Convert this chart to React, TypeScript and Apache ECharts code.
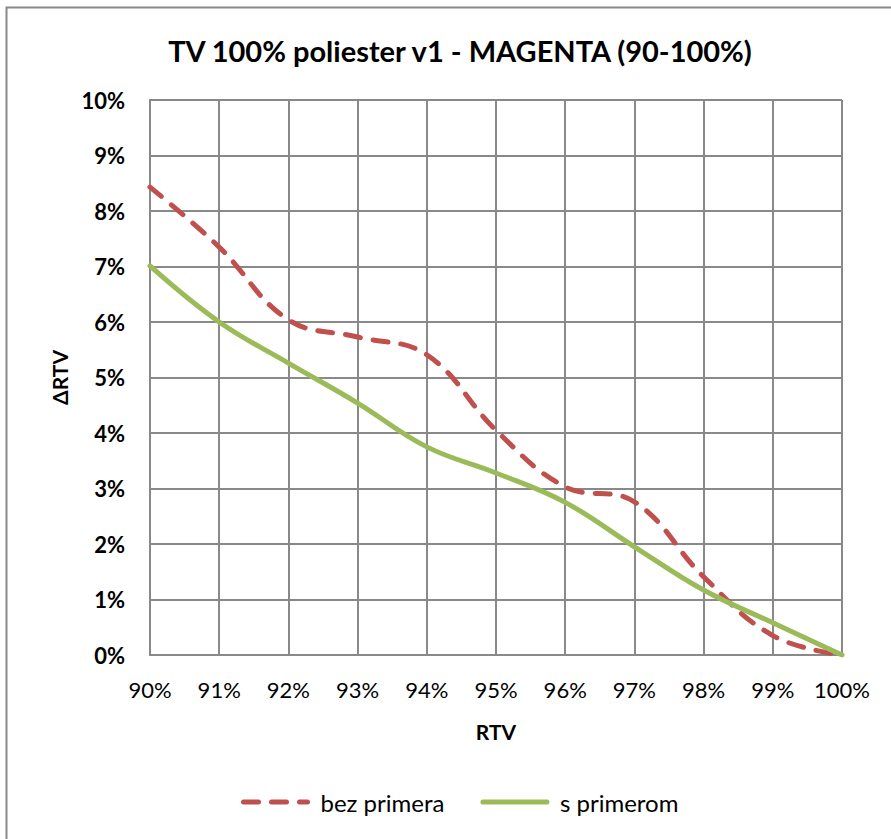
import React, { useEffect, useRef } from "react";
import * as echarts from "echarts";

const xValues = [90, 91, 92, 93, 94, 95, 96, 97, 98, 99, 100];
const bezPrimera = [8.43, 7.35, 6.04, 5.73, 5.41, 4.05, 3.03, 2.76, 1.41, 0.35, 0];
const sPrimerom = [7.01, 6.0, 5.26, 4.54, 3.75, 3.28, 2.75, 1.95, 1.17, 0.58, 0];

const FONT = "Lato, 'Open Sans', sans-serif";

export default function App() {
  const ref = useRef<HTMLDivElement>(null);
  useEffect(() => {
    document.body.style.margin = "0";
    if (!ref.current) return;
    const chart = echarts.init(ref.current, undefined, { renderer: "svg" });
    chart.setOption({
      animation: false,
      backgroundColor: "#ffffff",
      title: {
        text: "TV 100% poliester v1 - MAGENTA (90-100%)",
        left: 455,
        top: 31,
        textAlign: "center",
        textStyle: { fontFamily: FONT, fontSize: 29, fontWeight: "bold", color: "#000" },
      },
      grid: { left: 150, right: 49, top: 100, bottom: 184, containLabel: false },
      xAxis: {
        type: "value",
        min: 90,
        max: 100,
        interval: 1,
        name: "RTV",
        nameLocation: "middle",
        nameGap: 66,
        nameTextStyle: { fontFamily: FONT, fontSize: 21, fontWeight: "bold", color: "#000" },
        axisLine: { show: true, lineStyle: { color: "#898989", width: 2 } },
        axisTick: { show: false },
        axisLabel: {
          formatter: (v: number) => `${v}%`,
          fontFamily: FONT,
          fontSize: 22,
          color: "#000",
          margin: 23,
        },
        splitLine: { show: true, lineStyle: { color: "#898989", width: 2 } },
      },
      yAxis: {
        type: "value",
        min: 0,
        max: 10,
        interval: 1,
        name: "ΔRTV",
        nameLocation: "middle",
        nameGap: 80,
        nameRotate: 90,
        nameTextStyle: { fontFamily: FONT, fontSize: 21, fontWeight: "bold", color: "#000" },
        axisLine: { show: true, lineStyle: { color: "#898989", width: 2 } },
        axisTick: { show: false },
        axisLabel: {
          formatter: (v: number) => `${v}%`,
          fontFamily: FONT,
          fontSize: 22,
          fontWeight: "bold",
          color: "#000",
          margin: 25,
        },
        splitLine: { show: true, lineStyle: { color: "#898989", width: 2 } },
      },
      legend: {
        bottom: 20,
        left: 236,
        itemWidth: 64,
        itemHeight: 10,
        itemGap: 36,
        itemStyle: { opacity: 0 },
        lineStyle: { width: 5 },
        textStyle: { fontFamily: FONT, fontSize: 24, color: "#000", padding: [0, 0, 0, 8] },
        data: ["bez primera", "s primerom"],
      },
      graphic: [
        {
          type: "rect",
          shape: { x: 6.5, y: 7.5, width: 1000, height: 1000 },
          style: { fill: "none", stroke: "#898989", lineWidth: 2 },
          silent: true,
        },
      ],
      series: [
        {
          name: "bez primera",
          type: "line",
          data: xValues.map((x, i) => [x, bezPrimera[i]]),
          smooth: 0.4,
          symbol: "none",
          lineStyle: { color: "#C0504D", width: 5, type: [15, 13], cap: "round" },
          itemStyle: { color: "#C0504D" },
          z: 3,
        },
        {
          name: "s primerom",
          type: "line",
          data: xValues.map((x, i) => [x, sPrimerom[i]]),
          smooth: 0.4,
          symbol: "none",
          lineStyle: { color: "#9BBB59", width: 5, cap: "round" },
          itemStyle: { color: "#9BBB59" },
          z: 4,
        },
      ],
    });
    return () => chart.dispose();
  }, []);
  return <div ref={ref} style={{ width: 891, height: 839 }} />;
}
